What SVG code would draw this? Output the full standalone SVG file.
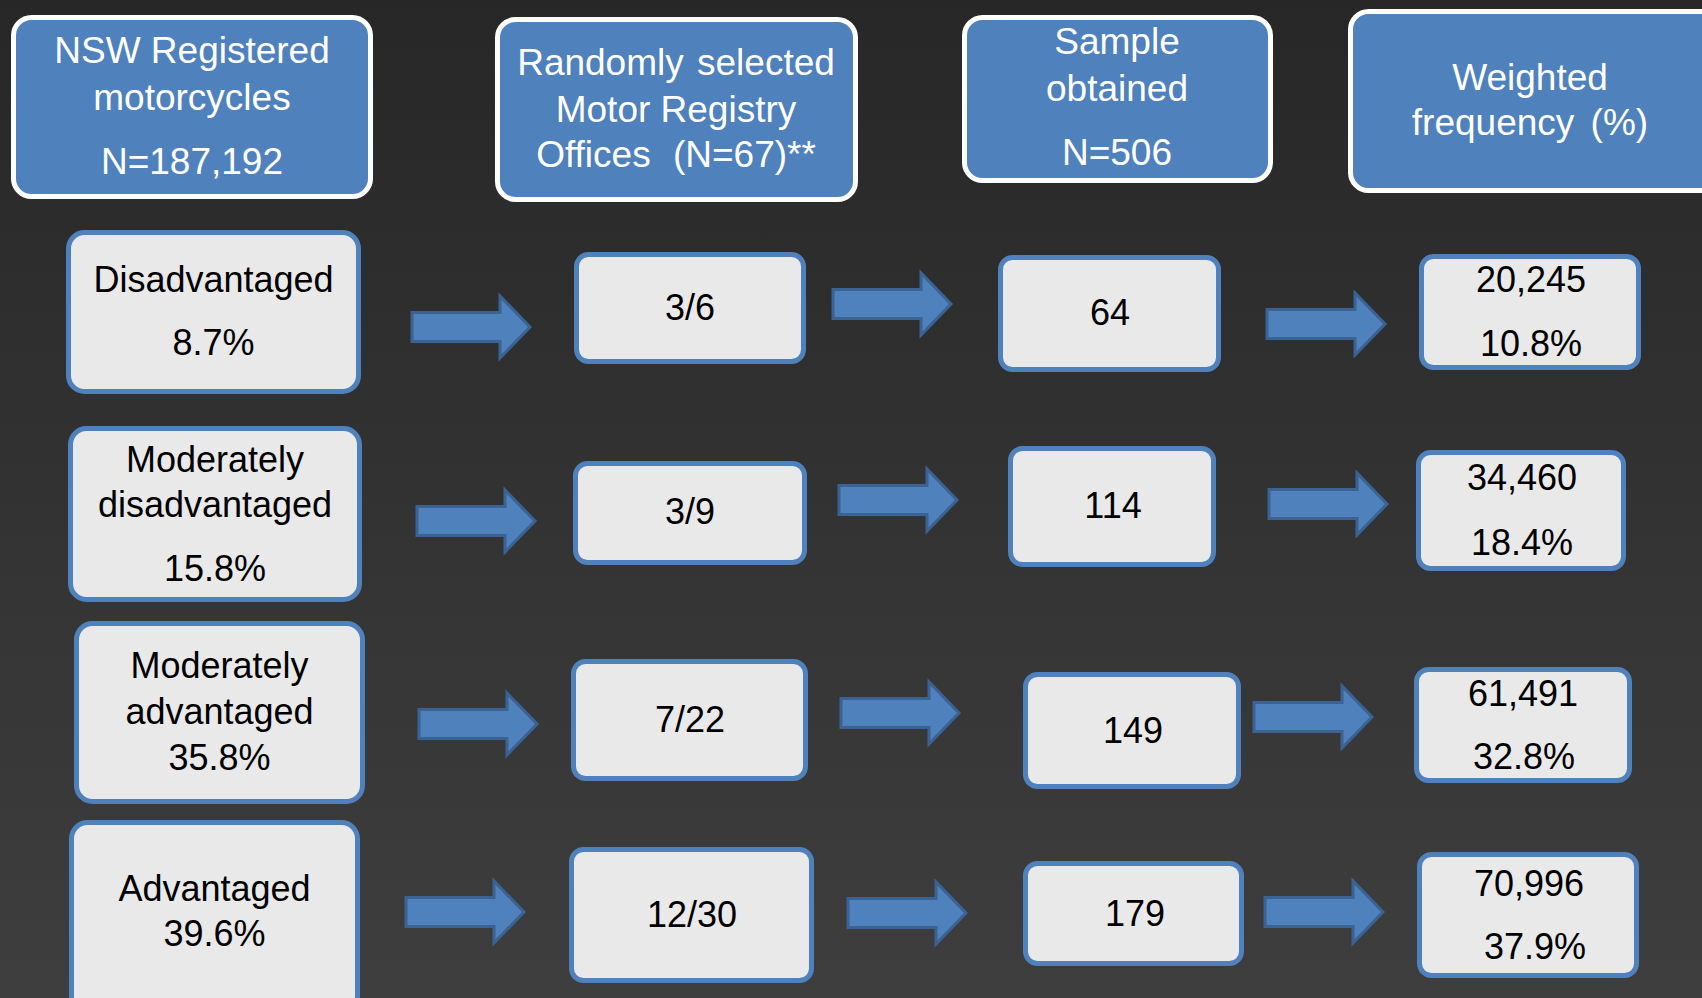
<svg xmlns="http://www.w3.org/2000/svg" xmlns:xlink="http://www.w3.org/1999/xlink" width="1702" height="998" viewBox="0 0 1702 998">
<defs>
<linearGradient id="bg" x1="0" y1="0" x2="0" y2="1">
<stop offset="0" stop-color="#272727"/>
<stop offset="1" stop-color="#3e3e3e"/>
</linearGradient>
<path id="arr" d="M-118,-14.5 H-30 V-31 L0,0 L-30,31 V14.5 H-118 Z"/>
</defs>
<style>
.hdr{fill:#4f81bd;stroke:#ffffff;stroke-width:5}
.box{fill:#e9e9e9;stroke:#4f81bd;stroke-width:5}
.ht{font-family:"Liberation Sans",Arial,sans-serif;font-size:37px;fill:#ffffff;text-anchor:middle}
.bt{font-family:"Liberation Sans",Arial,sans-serif;font-size:36px;fill:#000000;text-anchor:middle}
.ar{fill:#4f81bd;stroke:#3a6293;stroke-width:3}
</style>
<rect x="0" y="0" width="1702" height="998" fill="url(#bg)"/>

<g id="h1">
<rect class="hdr" x="13.5" y="17.5" width="357" height="179" rx="18"/>
<text class="ht" x="192" y="63">NSW Registered</text>
<text class="ht" x="192" y="110">motorcycles</text>
<text class="ht" x="192" y="174">N=187,192</text>
</g>
<g id="h2">
<rect class="hdr" x="497.5" y="19.5" width="358" height="180" rx="18"/>
<text class="ht" x="676" y="75" word-spacing="3">Randomly selected</text>
<text class="ht" x="676" y="122">Motor Registry</text>
<text class="ht" x="676" y="167" word-spacing="12">Offices (N=67)**</text>
</g>
<g id="h3">
<rect class="hdr" x="964.5" y="17.5" width="306" height="163" rx="18"/>
<text class="ht" x="1117" y="54">Sample</text>
<text class="ht" x="1117" y="101">obtained</text>
<text class="ht" x="1117" y="165">N=506</text>
</g>
<g id="h4">
<rect class="hdr" x="1350.5" y="11.5" width="370" height="179" rx="18"/>
<text class="ht" x="1530" y="90">Weighted</text>
<text class="ht" x="1530" y="135" word-spacing="6">frequency (%)</text>
</g>

<g id="l1">
<rect class="box" x="68.5" y="232.5" width="290" height="159" rx="16"/>
<text class="bt" x="213.5" y="292">Disadvantaged</text>
<text class="bt" x="213.5" y="355">8.7%</text>
</g>
<g id="l2">
<rect class="box" x="70.5" y="428.5" width="289" height="171" rx="16"/>
<text class="bt" x="215" y="472">Moderately</text>
<text class="bt" x="215" y="517">disadvantaged</text>
<text class="bt" x="215" y="581">15.8%</text>
</g>
<g id="l3">
<rect class="box" x="76.5" y="623.5" width="286" height="178" rx="16"/>
<text class="bt" x="219.5" y="678">Moderately</text>
<text class="bt" x="219.5" y="724">advantaged</text>
<text class="bt" x="219.5" y="770">35.8%</text>
</g>
<g id="l4">
<rect class="box" x="71.5" y="822.5" width="286" height="190" rx="16"/>
<text class="bt" x="214.5" y="901">Advantaged</text>
<text class="bt" x="214.5" y="946">39.6%</text>
</g>

<g id="m1">
<rect class="box" x="576.5" y="254.5" width="227" height="107" rx="12"/>
<text class="bt" x="690" y="320">3/6</text>
</g>
<g id="m2">
<rect class="box" x="575.5" y="463.5" width="229" height="99" rx="12"/>
<text class="bt" x="690" y="524">3/9</text>
</g>
<g id="m3">
<rect class="box" x="573.5" y="661.5" width="232" height="117" rx="12"/>
<text class="bt" x="690" y="732">7/22</text>
</g>
<g id="m4">
<rect class="box" x="571.5" y="849.5" width="240" height="131" rx="12"/>
<text class="bt" x="692" y="927">12/30</text>
</g>

<g id="s1">
<rect class="box" x="1000.5" y="257.5" width="218" height="112" rx="12"/>
<text class="bt" x="1110" y="325">64</text>
</g>
<g id="s2">
<rect class="box" x="1010.5" y="448.5" width="203" height="116" rx="12"/>
<text class="bt" x="1113" y="518">114</text>
</g>
<g id="s3">
<rect class="box" x="1025.5" y="674.5" width="213" height="112" rx="12"/>
<text class="bt" x="1133" y="743">149</text>
</g>
<g id="s4">
<rect class="box" x="1025.5" y="863.5" width="216" height="100" rx="12"/>
<text class="bt" x="1135" y="926">179</text>
</g>

<g id="w1">
<rect class="box" x="1421.5" y="256.5" width="217" height="111" rx="12"/>
<text class="bt" x="1531" y="292">20,245</text>
<text class="bt" x="1531" y="356">10.8%</text>
</g>
<g id="w2">
<rect class="box" x="1418.5" y="452.5" width="205" height="116" rx="12"/>
<text class="bt" x="1522" y="490">34,460</text>
<text class="bt" x="1522" y="555">18.4%</text>
</g>
<g id="w3">
<rect class="box" x="1416.5" y="669.5" width="213" height="111" rx="12"/>
<text class="bt" x="1523" y="706">61,491</text>
<text class="bt" x="1524" y="769">32.8%</text>
</g>
<g id="w4">
<rect class="box" x="1419.5" y="854.5" width="217" height="121" rx="12"/>
<text class="bt" x="1529" y="896">70,996</text>
<text class="bt" x="1535" y="959">37.9%</text>
</g>

<g id="connectors" class="ar">
<use xlink:href="#arr" href="#arr" transform="translate(530,327)"/>
<use xlink:href="#arr" href="#arr" transform="translate(535,521)"/>
<use xlink:href="#arr" href="#arr" transform="translate(537,724)"/>
<use xlink:href="#arr" href="#arr" transform="translate(524,912)"/>
<use xlink:href="#arr" href="#arr" transform="translate(951,304)"/>
<use xlink:href="#arr" href="#arr" transform="translate(957,500)"/>
<use xlink:href="#arr" href="#arr" transform="translate(959,713)"/>
<use xlink:href="#arr" href="#arr" transform="translate(966,913)"/>
<use xlink:href="#arr" href="#arr" transform="translate(1385,324)"/>
<use xlink:href="#arr" href="#arr" transform="translate(1387,504)"/>
<use xlink:href="#arr" href="#arr" transform="translate(1372,717)"/>
<use xlink:href="#arr" href="#arr" transform="translate(1383,912)"/>
</g>
</svg>
